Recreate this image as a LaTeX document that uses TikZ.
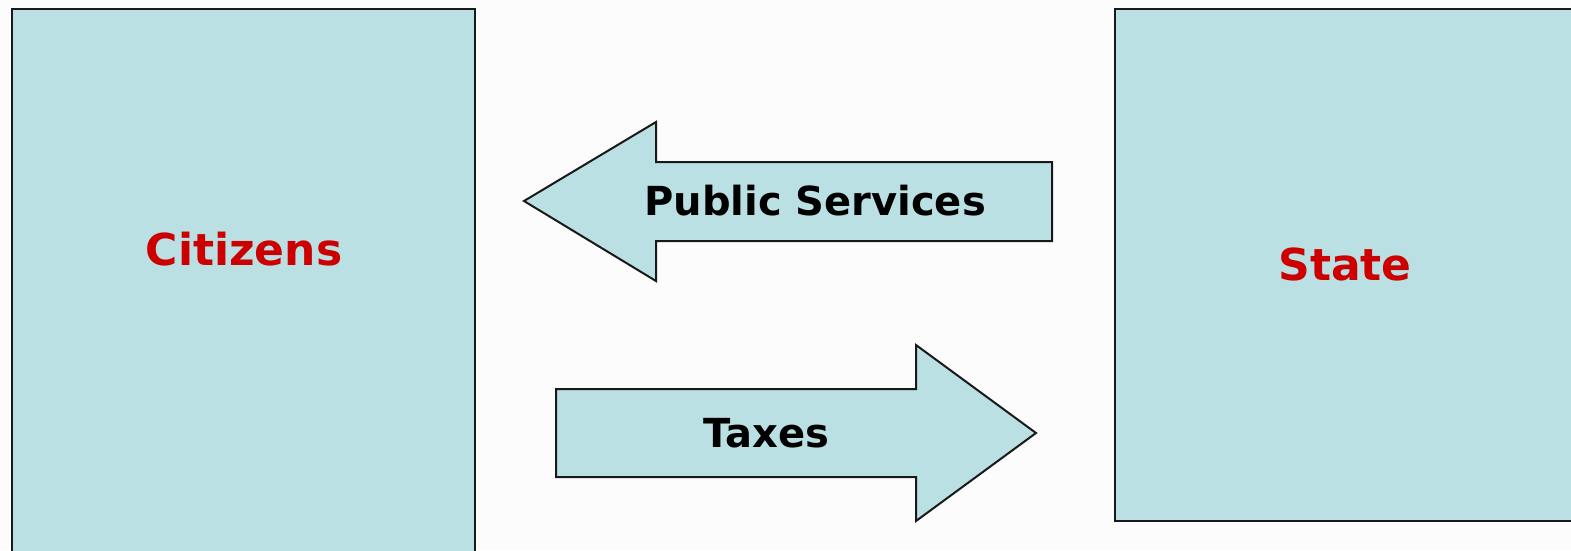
\documentclass[tikz,border=0pt]{standalone}
\usepackage{fontspec}
\setmainfont{DejaVu Sans}
\definecolor{boxfill}{HTML}{BAE0E3}
\definecolor{labelred}{HTML}{CC0000}
\definecolor{paper}{HTML}{FCFCFC}

\begin{document}
\begin{tikzpicture}[x=1pt,y=-1pt,
    panel/.style={draw=black!90,line width=2pt,fill=boxfill},
    partylabel/.style={font=\bfseries\fontsize{44}{52}\selectfont,text=labelred},
    flowlabel/.style={font=\bfseries\fontsize{40}{48}\selectfont,text=black}]
      \fill[paper] (0,0) rectangle (1571,550);
      \useasboundingbox (0,0) rectangle (1571,550);
      \clip (0,0) rectangle (1571,550);
      \draw[panel] (12,9) rectangle (475,570);
      \draw[panel] (1115,9) rectangle (1590,521);
      \node[partylabel] (citizens) at (244,249) {Citizens};
      \node[partylabel] (state) at (1345,264) {State};
      \draw[panel] (524,201) -- (656,122) -- (656,162) -- (1052,162)
        -- (1052,241) -- (656,241) -- (656,281) -- cycle;
      \draw[panel] (1036,433) -- (916,345) -- (916,389) -- (556,389)
        -- (556,477) -- (916,477) -- (916,521) -- cycle;
      \node[flowlabel] (services) at (815,201) {Public Services};
      \node[flowlabel] (taxes) at (766,433) {Taxes};
    \end{tikzpicture}
\end{document}
